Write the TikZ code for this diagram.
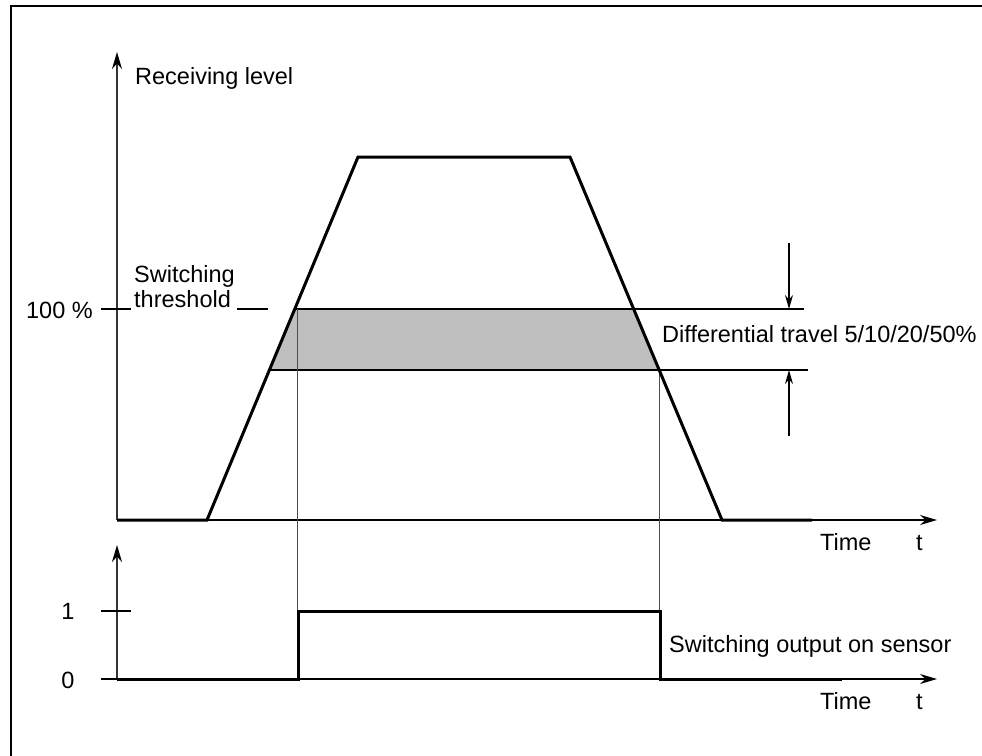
\documentclass[tikz,border=0pt]{standalone}
\usepackage{fontspec}
\setmainfont{Liberation Sans}
\usetikzlibrary{arrows.meta}

\begin{document}
\begin{tikzpicture}[x=1pt, y=-1pt,
    axisline/.style={line width=1.8pt, draw=black!80,
                     -{Stealth[length=17pt, width=10pt, black]}},
    hairline/.style={line width=1.4pt},
    guide/.style={line width=1.7pt, draw=black!70},
    signal/.style={line width=3pt, line join=miter},
    dimarrow/.style={line width=1.4pt, -{Stealth[length=14pt, width=8pt]}},
    txt/.style={font=\fontsize{23.5}{25}\selectfont, inner sep=0pt}
]
    \useasboundingbox (0,0) rectangle (982,755);

    % --- Frame ---
    \draw[line width=1.8pt] (11,770) -- (11,6) -- (995,6);

    % --- Axes ---
    \coordinate (o1)    at (117,520);
    \coordinate (ytip1) at (117,52);
    \coordinate (xtip1) at (937,520);
    \coordinate (o2)    at (117,679);
    \coordinate (ytip2) at (117,545);
    \coordinate (x02)   at (101,679);
    \coordinate (xtip2) at (937,679);

    \draw[axisline] (o1) -- (ytip1);
    \draw[axisline, line width=1.4pt, draw=black] (o1) -- (xtip1);
    \draw[axisline] (o2) -- (ytip2);
    \draw[axisline, line width=1.4pt, draw=black] (x02) -- (xtip2);

    % --- Switching threshold band ---
    \coordinate (hiL) at (295.5,309);
    \coordinate (hiR) at (633.6,309);
    \coordinate (loL) at (269.4,370);
    \coordinate (loR) at (659.2,370);

    \fill[black!25] (hiL) -- (hiR) -- (loR) -- (loL) -- cycle;
    \draw[hairline] (101,309) -- (131,309);
    \draw[hairline] (237,309) -- (268,309);
    \draw[hairline] (hiR) -- (804,309);
    \draw[hairline] (loR) -- (808,370);
    \draw[signal, line width=2.6pt] (hiL) -- (hiR);
    \draw[signal, line width=2.6pt] (loL) -- (loR);

    % --- Guides down to the output ---
    \draw[guide] (297.5,309) -- (297.5,679);
    \draw[guide] (659.5,370) -- (659.5,679);

    % --- Receiving level ---
    \coordinate (r0)   at (207,520);
    \coordinate (r1)   at (358,157);
    \coordinate (r2)   at (570,157);
    \coordinate (r3)   at (722,520);
    \coordinate (rend) at (812,520);
    \draw[signal] (o1) -- (r0) -- (r1) -- (r2) -- (r3) -- (rend);

    % --- Switching output ---
    \coordinate (s1) at (298,679);
    \coordinate (s2) at (298,611);
    \coordinate (s3) at (660,611);
    \coordinate (s4) at (660,679);
    \coordinate (s5) at (842,679);
    \draw[hairline] (101,611) -- (131,611);
    \draw[signal] (o2) -- (s1) -- (s2) -- (s3) -- (s4) -- (s5);

    % --- Differential travel arrows ---
    \coordinate (dtop) at (789,243);
    \coordinate (dhi)  at (789,309);
    \coordinate (dbot) at (789,436);
    \coordinate (dlo)  at (789,370);
    \draw[dimarrow] (dtop) -- (dhi);
    \draw[dimarrow] (dbot) -- (dlo);

    % --- Labels ---
    \node[txt, anchor=base west] (ylabel)  at (135,84)  {Receiving level};
    \node[txt, anchor=base west] (thr1)    at (134,282) {Switching};
    \node[txt, anchor=base west] (thr2)    at (134,307) {threshold};
    \node[txt, anchor=base east] (full)    at (93,318)  {100 \%};
    \node[txt, anchor=base west] (difflab) at (662,342) {Differential travel 5/10/20/50\%};
    \node[txt, anchor=base west] (time1)   at (820,550) {Time};
    \node[txt, anchor=base west] (t1)      at (916,550) {t};
    \node[txt, anchor=base west] (outlab)  at (669,652) {Switching output on sensor};
    \node[txt, anchor=base west] (time2)   at (820,709) {Time};
    \node[txt, anchor=base west] (t2)      at (916,709) {t};
    \node[txt, anchor=base]      (one)     at (68,619.5) {1};
    \node[txt, anchor=base]      (zero)    at (68,688)  {0};
\end{tikzpicture}
\end{document}
